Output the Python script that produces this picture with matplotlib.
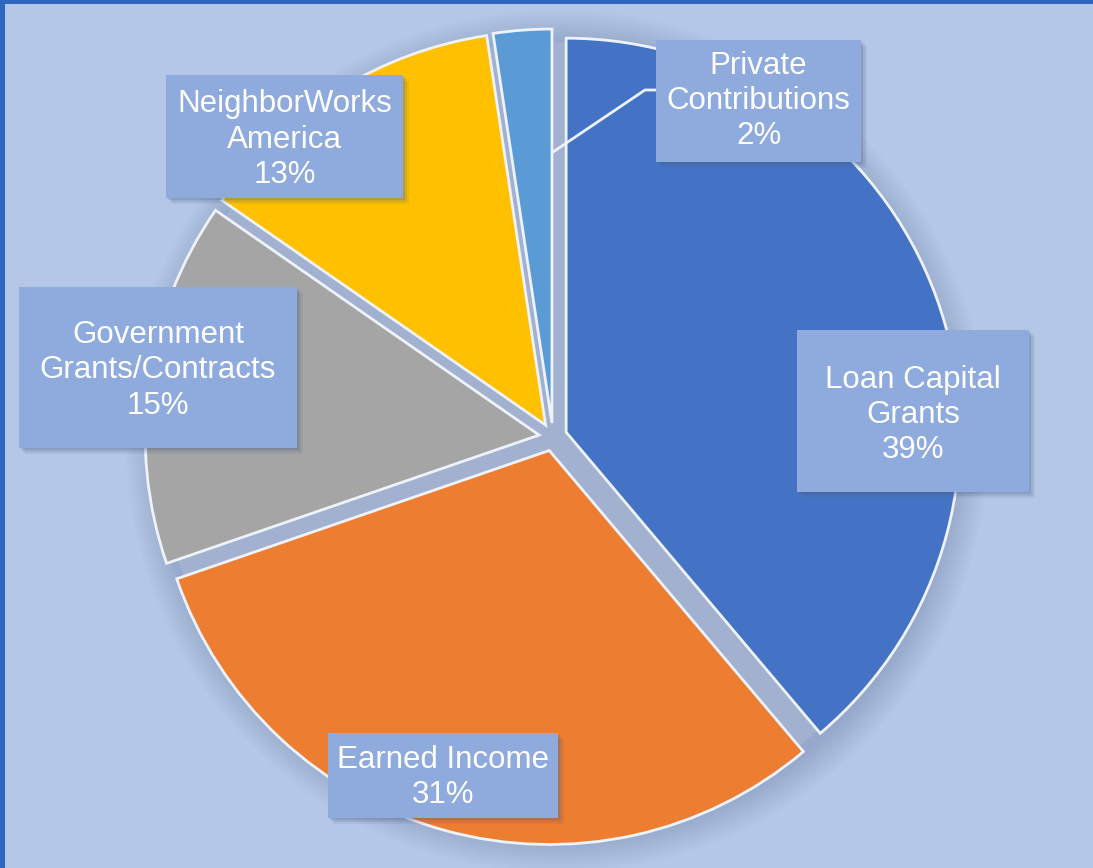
import matplotlib
matplotlib.use('Agg')
import matplotlib.pyplot as plt
from matplotlib.patches import Rectangle, Circle

categories = ["Loan Capital\nGrants", "Earned Income", "Government\nGrants/Contracts",
              "NeighborWorks\nAmerica", "Private\nContributions"]
shares = [39, 31, 15, 13, 2.4]
pct_labels = ["39%", "31%", "15%", "13%", "2%"]
colors = ["#4472c4", "#ed7d31", "#a5a5a5", "#ffc000", "#5b9bd5"]

W, H = 1093, 868
bg = "#b4c7e7"
box_color = "#8faadc"

fig = plt.figure(figsize=(W / 100, H / 100), dpi=100, facecolor=bg)
ax = fig.add_axes([0, 0, 1, 1])
ax.set_facecolor(bg)

# pie geometry (pixel coords, y up)
cx, cy, r = 553, H - 437, 394
gap = 14

# soft shadow around the pie
for k in range(16, 0, -1):
    ax.add_patch(Circle((cx + 4, cy - 4), r + 2 + k * 2.2, color="#7d90b5",
                        alpha=0.035, lw=0, zorder=1))
ax.add_patch(Circle((cx, cy), r + 1, color="#a2b1cf", lw=0, zorder=1.5))

ax.pie(shares, colors=colors, startangle=90, counterclock=False,
       center=(cx, cy), radius=r, explode=[gap] * len(shares),
       wedgeprops=dict(edgecolor="#eef2fa", linewidth=2, zorder=2),
       frame=True)
ax.set_xlim(0, W)
ax.set_ylim(0, H)
ax.set_aspect('equal')
ax.axis('off')

# label boxes: (left, top, right, bottom) in pixels
boxes = [
    (797, 330, 1029, 492),
    (328, 733, 558, 818),
    (19, 287, 297, 448),
    (166, 75, 403, 198),
    (656, 40, 861, 162),
]
text_dy = [4, 2, 3, 3, 0]

# leader line for the small slice
ax.plot([656, 645, 553], [H - 90, H - 90, H - 152], color="#eef2fa", lw=2, zorder=3)

for (l, t, rr, b), cat, pct, dy in zip(boxes, categories, pct_labels, text_dy):
    for s, a in [(6, 0.10), (4, 0.15), (2, 0.2)]:
        ax.add_patch(Rectangle((l + s, H - b - s), rr - l, b - t, color="#4a5f86",
                               alpha=a, lw=0, zorder=4))
    ax.add_patch(Rectangle((l, H - b), rr - l, b - t, color=box_color, lw=0, zorder=5))
    ax.text((l + rr) / 2, H - (t + b) / 2 - dy, cat + "\n" + pct, color="white",
            fontsize=22.5, family="Liberation Sans", ha="center", va="center",
            linespacing=1.22, zorder=6)

# dark blue frame on top and left
border = "#2f67c0"
ax.add_patch(Rectangle((0, H - 4), W, 4, color=border, lw=0, zorder=10))
ax.add_patch(Rectangle((0, 0), 5, H, color=border, lw=0, zorder=10))

fig.savefig("out.png", dpi=100, facecolor=bg)
